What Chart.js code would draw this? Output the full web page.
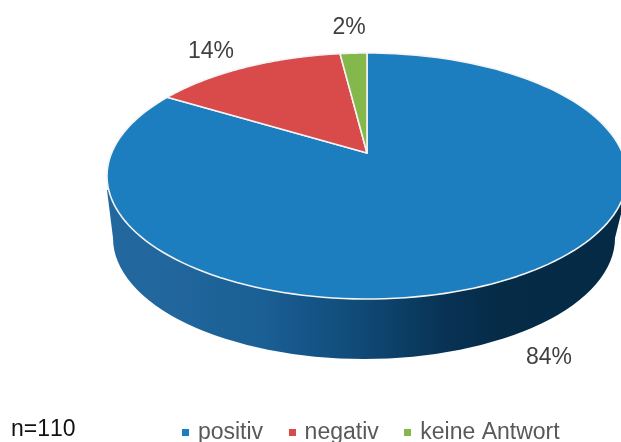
<!DOCTYPE html>
<html><head><meta charset="utf-8">
<style>html,body{margin:0;padding:0;background:#fff;overflow:hidden}canvas{display:block}</style>
<script src="https://cdn.jsdelivr.net/npm/chart.js@4"></script>
</head><body><canvas id="c" width="621" height="442"></canvas>
<script>
const categories = ['positiv', 'negativ', 'keine Antwort'];
const shares = [83.6, 14.4, 2];
const sliceColors = ['#1c7dbf', '#d94a4a', '#85b84a'];
const sampleSize = 'n=110';

// Perspective view of the disc
const view = {ax:367, ay:153, d:255.4, a:118.7, c:0.187};
const base = {cx:364, cy:238, rx:251, ry:121};
const project = ang => {
  const u = Math.cos(ang), v = -Math.sin(ang), w = 1 + view.c * v;
  return [view.ax + view.d * u / w, view.ay - view.a * v / w];
};

// Perspective-aware slice drawing for the library's arc elements
Chart.ArcElement.prototype.draw = function (ctx) {
  const s = this.startAngle, e = this.endAngle, n = 160;
  ctx.save();
  ctx.beginPath();
  ctx.moveTo(view.ax, view.ay);
  for (let i = 0; i <= n; i++) {
    const p = project(s + (e - s) * i / n);
    ctx.lineTo(p[0], p[1]);
  }
  ctx.closePath();
  ctx.fillStyle = this.options.backgroundColor;
  ctx.fill();
  ctx.strokeStyle = '#f4f4f4';
  ctx.lineWidth = 1.6;
  ctx.lineJoin = 'round';
  ctx.stroke();
  ctx.restore();
};

const wall = {
  id: 'wall',
  beforeDatasetsDraw(chart) {
    const ctx = chart.ctx;
    const g = ctx.createLinearGradient(107, 0, 625, 0);
    [[0, '#23679f'], [0.12, '#22669e'], [0.2, '#1d6398'], [0.3, '#1a6094'], [0.36, '#17578c'],
     [0.44, '#13507f'], [0.5, '#0f4874'], [0.58, '#0b3d63'], [0.66, '#083153'], [0.76, '#052b47'], [1, '#042a45']]
      .forEach(s => g.addColorStop(s[0], s[1]));
    ctx.save();
    ctx.beginPath();
    ctx.moveTo(107, 190);
    ctx.lineTo(base.cx - base.rx, base.cy);
    ctx.ellipse(base.cx, base.cy, base.rx, base.ry, 0, Math.PI, 0, true);
    ctx.lineTo(627, 190);
    ctx.closePath();
    ctx.fillStyle = g;
    ctx.fill();
    ctx.restore();
  }
};

const labels = {
  id: 'labels',
  afterDraw(chart) {
    const ctx = chart.ctx;
    const pos = [[549, 358], [211, 52], [349, 28]];
    ctx.save();
    ctx.font = '23px "Liberation Sans"';
    ctx.fillStyle = '#404040';
    ctx.textAlign = 'center';
    ctx.textBaseline = 'middle';
    shares.forEach((v, i) => ctx.fillText(Math.round(v) + '%', pos[i][0], pos[i][1]));
    ctx.textAlign = 'left';
    ctx.fillStyle = '#111';
    ctx.fontKerning = 'none';
    ctx.fillText(sampleSize, 11, 430);
    ctx.restore();
  }
};

// Small square legend keys, one canvas per slice colour
const swatches = sliceColors.map(col => {
  const k = document.createElement('canvas');
  k.width = 7; k.height = 7;
  const x = k.getContext('2d');
  x.fillStyle = col; x.fillRect(0, 0, 7, 7);
  return k;
});

new Chart(document.getElementById('c'), {
  type: 'pie',
  data: { labels: categories, datasets: [{ data: shares, backgroundColor: sliceColors, borderWidth: 0, pointStyle: swatches }] },
  options: {
    responsive: false,
    animation: false,
    layout: { padding: { left: 123, right: 0, top: 0, bottom: -12 } },
    plugins: {
      tooltip: { enabled: false },
      legend: {
        position: 'bottom',
        labels: {
          usePointStyle: true, pointStyleWidth: 2, boxHeight: 7, padding: 28,
          font: { family: '"Liberation Sans"', size: 23 }, color: '#595959',
          generateLabels(chart) {
            return categories.map((t, i) => ({ text: t, fillStyle: sliceColors[i], strokeStyle: sliceColors[i],
              lineWidth: 0, pointStyle: swatches[i], hidden: false, index: i, fontColor: '#595959' }));
          }
        }
      }
    }
  },
  plugins: [wall, labels]
});
</script></body></html>
